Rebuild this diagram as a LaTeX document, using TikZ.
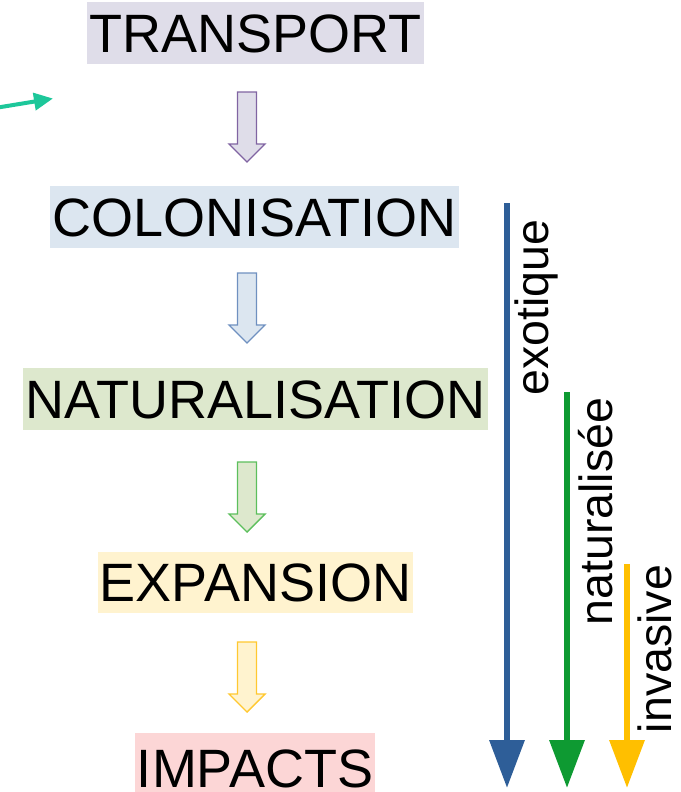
\documentclass[tikz,border=0pt]{standalone}
\usepackage{fontspec}
\setmainfont{Liberation Sans}
\usetikzlibrary{arrows.meta}
\definecolor{lavbg}{HTML}{DFDDE9}
\definecolor{lavln}{HTML}{8064A2}
\definecolor{bluebg}{HTML}{DCE6F0}
\definecolor{blueln}{HTML}{6F90C0}
\definecolor{greenbg}{HTML}{DDE8CD}
\definecolor{greenln}{HTML}{5CBF5C}
\definecolor{yelbg}{HTML}{FFF3CF}
\definecolor{yelln}{HTML}{FFC830}
\definecolor{pinkbg}{HTML}{FCD6D6}
\definecolor{exoblue}{HTML}{2E5E98}
\definecolor{natgreen}{HTML}{0E9A32}
\definecolor{invyel}{HTML}{FFBF00}
\definecolor{tealc}{HTML}{1DC79A}
\tikzset{
  stage/.style={inner sep=0pt, minimum height=62pt, text height=0.716*54pt, text depth=0pt,
    font=\fontsize{54}{54}\selectfont},
  blockarr/.pic={\path[pic actions] (-9.5,0) -- (9.5,0) -- (9.5,52) -- (18,52) -- (0,70)
    -- (-18,52) -- (-9.5,52) -- cycle;},
  barr/.style={line width=1.4pt, line join=miter},
  cat/.style={rotate=90, anchor=base, inner sep=0pt, text depth=0pt, font=\fontsize{46.5}{46.5}\selectfont},
  catarrow/.style={line width=6.5pt, -{Triangle[length=48pt,width=34pt]}},
}
\begin{document}
\begin{tikzpicture}[x=1pt,y=-1pt]
\useasboundingbox (0,0) rectangle (680,792);
% stage boxes
\node[stage, fill=lavbg, minimum width=337pt] (trans) at (255.5,33) {TRANSPORT};
\node[stage, fill=bluebg, minimum width=409pt] (colo) at (254.5,217) {COLONISATION};
\node[stage, fill=greenbg, minimum width=465pt] (natu) at (255.5,399) {NATURALISATION};
\node[stage, fill=yelbg, minimum width=315pt, minimum height=61pt] (expa) at (255.5,582.5) {EXPANSION};
\node[stage, fill=pinkbg, minimum width=240pt, minimum height=59pt, text height=49pt] (impa) at (255,762.5) {IMPACTS};
% block arrows between stages
\pic[barr, draw=lavln, fill=lavbg] at (247,92) {blockarr};
\pic[barr, draw=blueln, fill=bluebg] at (247,273) {blockarr};
\pic[barr, draw=greenln, fill=greenbg] at (247,462) {blockarr};
\pic[barr, draw=yelln, fill=yelbg] at (247,642) {blockarr};
% category arrows
\coordinate (exoS) at (507,203);
\coordinate (exoE) at (507,788);
\coordinate (natS) at (567,392);
\coordinate (natE) at (567,788);
\coordinate (invS) at (627,564);
\coordinate (invE) at (627,788);
\draw[catarrow, exoblue] (exoS) -- (exoE);
\draw[catarrow, natgreen] (natS) -- (natE);
\draw[catarrow, invyel] (invS) -- (invE);
\node[cat] (exot) at (548,307.5) {exotique};
\node[cat] (natl) at (612,511.5) {naturalisée};
\node[cat] (inva) at (671,649) {invasive};
% teal arrow
\coordinate (tealA) at (-2,107.5);
\coordinate (tealB) at (53,98.5);
\draw[tealc, line width=4pt, -{Triangle[length=19pt,width=17pt]}] (tealA) -- (tealB);
\end{tikzpicture}
\end{document}
